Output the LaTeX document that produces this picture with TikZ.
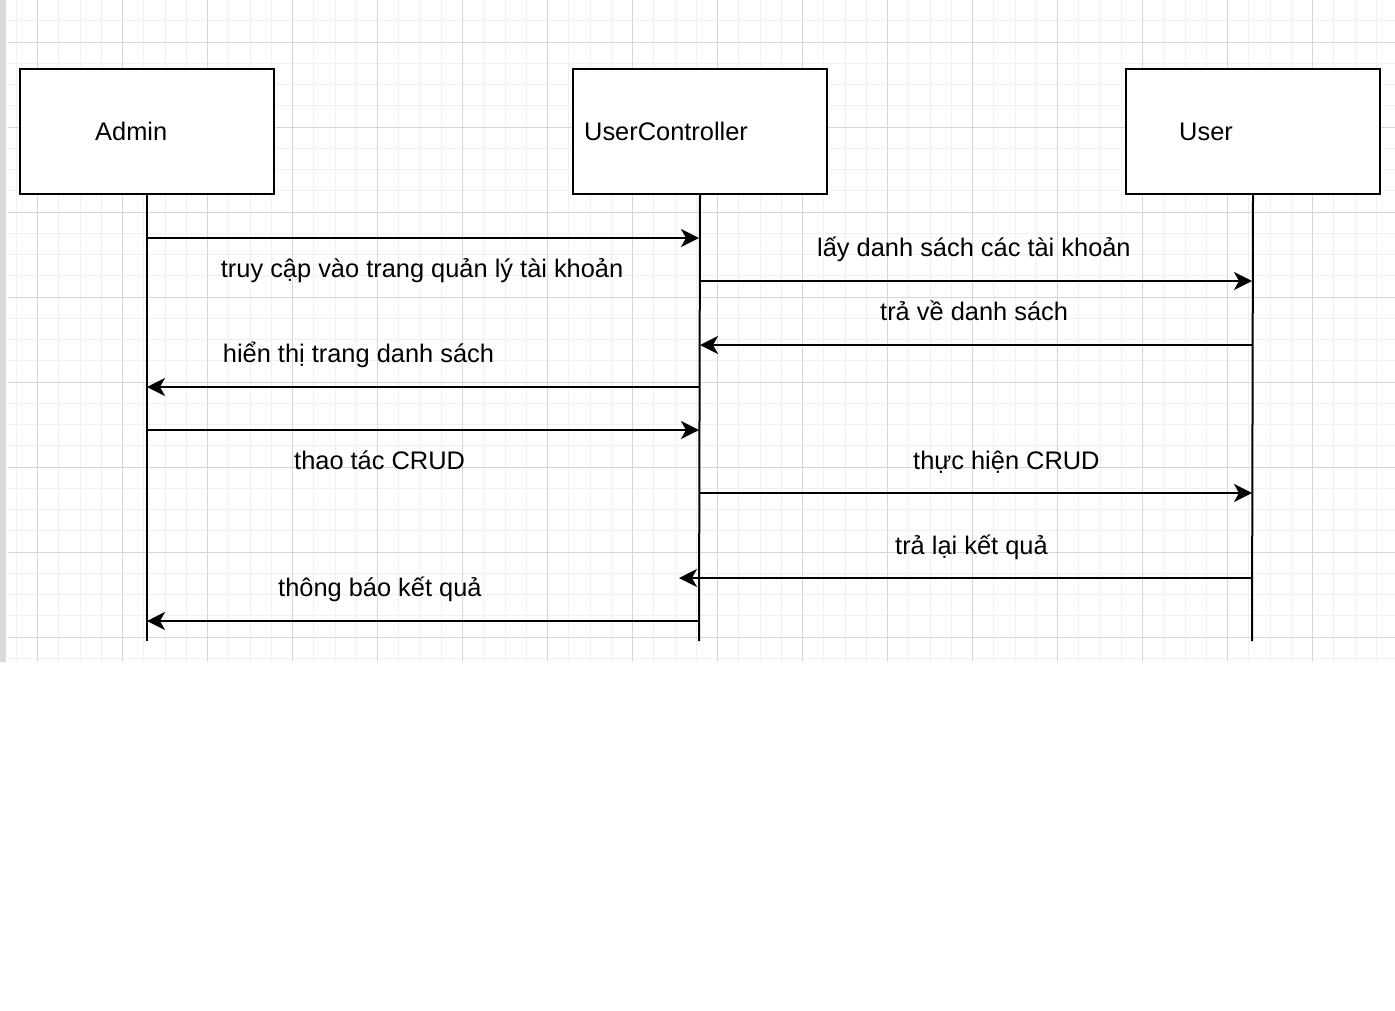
\documentclass[tikz,border=0pt]{standalone}
\usepackage{fontspec}
\setmainfont{Liberation Sans}
\usetikzlibrary{arrows.meta}
\definecolor{gridmajor}{HTML}{D6D6D6}
\definecolor{gridminor}{HTML}{F0F0F0}
\definecolor{sidebar}{HTML}{D9D9D9}
\tikzset{
  actor/.style={draw=black, line width=2pt, fill=white, minimum width=254pt, minimum height=125pt, inner sep=0pt, anchor=north west},
  lbl/.style={anchor=base west, inner sep=0pt, font=\fontsize{25.4}{30}\selectfont},
  lifeline/.style={line width=2pt},
  msg/.style={line width=2pt, -{Stealth[length=18pt, width=18pt, inset=5pt]}},
  minorline/.style={gridminor, line width=1pt},
  majorline/.style={gridmajor, line width=1pt},
}
\begin{document}
\begin{tikzpicture}[x=1pt, y=-1pt]
\useasboundingbox (0,0) rectangle (1395,1010);
\fill[white] (0,0) rectangle (1395,1010);
% grid
\foreach \i in {0,...,65} { \draw[minorline] ({16.25+21.25*\i},0) -- ({16.25+21.25*\i},662); }
\foreach \i in {0,...,31} { \draw[minorline] (8,{-0.5+21.25*\i}) -- (1395,{-0.5+21.25*\i}); }
\foreach \i in {0,...,16} { \draw[majorline] ({37.5+85*\i},0) -- ({37.5+85*\i},662); }
\foreach \i in {0,...,7} { \draw[majorline] (8,{42+85*\i}) -- (1395,{42+85*\i}); }
\fill[sidebar] (0,0) rectangle (6,662);
% actors
\node[actor] (admin) at (19,68) {};
\node[actor] (ctrl) at (572,68) {};
\node[actor] (user) at (1125,68) {};
\node[lbl] (tadmin) at (95,140.5) {Admin};
\node[lbl] (tctrl) at (584,140.5) {UserController};
\node[lbl] (tuser) at (1179,140.5) {User};
% lifeline ends
\coordinate (adminEnd) at (147,641);
\coordinate (ctrlEnd) at (699,641);
\coordinate (userEnd) at (1252,641);
\draw[lifeline] (admin.south) -- (adminEnd);
\draw[lifeline] (ctrl.south) -- (ctrlEnd);
\draw[lifeline] (user.south) -- (userEnd);
% message points
\coordinate (a1) at (147,238); \coordinate (c1) at (699,238);
\coordinate (c2) at (699,281); \coordinate (u2) at (1252,281);
\coordinate (u3) at (1252,345); \coordinate (c3) at (700,345);
\coordinate (c4) at (699,387); \coordinate (a4) at (147,387);
\coordinate (a5) at (147,430); \coordinate (c5) at (699,430);
\coordinate (c6) at (699,493); \coordinate (u6) at (1252,493);
\coordinate (u7) at (1252,578); \coordinate (c7) at (679,578);
\coordinate (c8) at (699,621); \coordinate (a8) at (147,621);
\draw[msg] (a1) -- (c1);
\draw[msg] (c2) -- (u2);
\draw[msg] (u3) -- (c3);
\draw[msg] (c4) -- (a4);
\draw[msg] (a5) -- (c5);
\draw[msg] (c6) -- (u6);
\draw[msg] (u7) -- (c7);
\draw[msg] (c8) -- (a8);
% labels
\node[lbl] (m1) at (220.7,277) {truy cập vào trang quản lý tài khoản};
\node[lbl] (m2) at (817,256) {lấy danh sách các tài khoản};
\node[lbl] (m3) at (880,320) {trả về danh sách};
\node[lbl] (m4) at (222.7,362) {hiển thị trang danh sách};
\node[lbl] (m5) at (294,469) {thao tác CRUD};
\node[lbl] (m6) at (913,469) {thực hiện CRUD};
\node[lbl] (m7) at (895,554) {trả lại kết quả};
\node[lbl] (m8) at (278,596) {thông báo kết quả};
\end{tikzpicture}
\end{document}
